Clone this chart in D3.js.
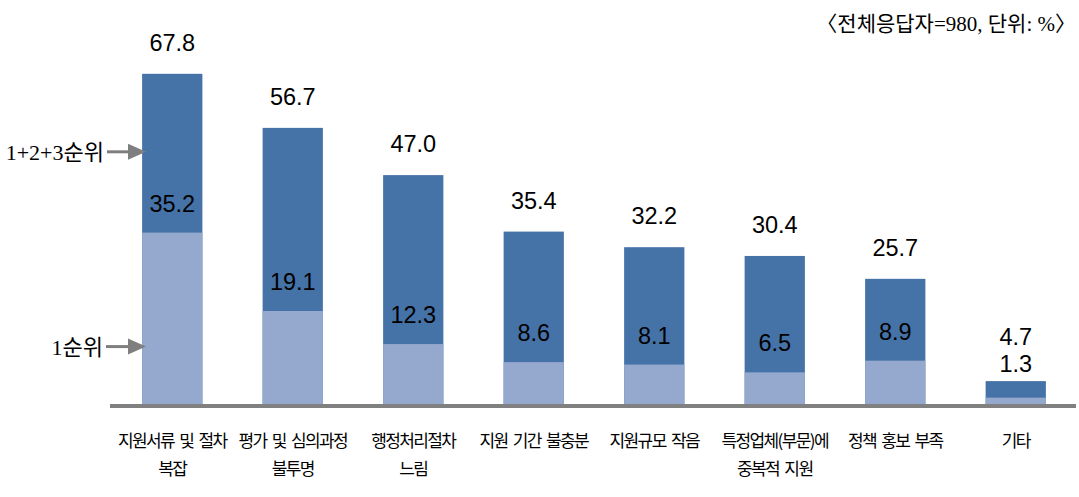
<!DOCTYPE html>
<html>
<head>
<meta charset="utf-8">
<script src="https://cdn.jsdelivr.net/npm/d3@7"></script>
<style>
  html, body { margin: 0; padding: 0; background: #fff; }
  svg { display: block; }
</style>
</head>
<body>
<script>
const categories = [
  ["지원서류 및 절차", "복잡"],
  ["평가 및 심의과정", "불투명"],
  ["행정처리절차", "느림"],
  ["지원 기간 불충분"],
  ["지원규모 작음"],
  ["특정업체(부문)에", "중복적 지원"],
  ["정책 홍보 부족"],
  ["기타"]
];
const totalValues = [67.8, 56.7, 47.0, 35.4, 32.2, 30.4, 25.7, 4.7];
const firstValues = [35.2, 19.1, 12.3, 8.6, 8.1, 6.5, 8.9, 1.3];
const seriesNames = ["1+2+3순위", "1순위"];
const noteText = "〈전체응답자=980, 단위: %〉";

const W = 1079, H = 497;
const svg = d3.select("body").append("svg").attr("width", W).attr("height", H);

const keys = categories.map((c, i) => "c" + i);
const x = d3.scaleBand().domain(keys).range([112, 1076]).paddingInner(0.5).paddingOuter(0.25);
const y = d3.scaleLinear().domain([0, 80]).range([404, 404 - 80 * 4.87]);

const darkColor = "#4572a7";
const lightColor = "#95a9cf";
const numFont = "'Liberation Sans', Arial, sans-serif";
const korFont = "'Noto Sans CJK KR', sans-serif";

// total bars
svg.append("g").selectAll("rect").data(totalValues).join("rect")
  .attr("x", (d, i) => x(keys[i]))
  .attr("y", d => y(d))
  .attr("width", x.bandwidth())
  .attr("height", d => y(0) - y(d))
  .attr("fill", darkColor);

// first-rank bars
svg.append("g").selectAll("rect").data(firstValues).join("rect")
  .attr("x", (d, i) => x(keys[i]))
  .attr("y", d => y(d))
  .attr("width", x.bandwidth())
  .attr("height", d => y(0) - y(d))
  .attr("fill", lightColor);

// axis
const axis = svg.append("g").attr("transform", "translate(0,406)")
  .call(d3.axisBottom(x).tickSize(0).tickSizeOuter(0).tickFormat(""));
axis.select(".domain").attr("stroke", "#808080").attr("stroke-width", 4)
  .attr("d", "M110,0H1076");

// category labels
const labG = svg.append("g");
categories.forEach((lines, i) => {
  const t = labG.append("text")
    .attr("x", x(keys[i]) + x.bandwidth() / 2)
    .attr("y", 447)
    .attr("text-anchor", "middle")
    .attr("font-family", korFont)
    .attr("font-size", 17)
    .attr("letter-spacing", -1.6)
    .attr("word-spacing", 3)
    .attr("fill", "#000");
  lines.forEach((ln, j) => {
    t.append("tspan").attr("x", x(keys[i]) + x.bandwidth() / 2)
      .attr("y", 447 + j * 28).text(ln);
  });
});

// value labels
const valG = svg.append("g").attr("font-family", numFont).attr("font-size", 23.5)
  .attr("text-anchor", "middle").attr("fill", "#000");
totalValues.forEach((v, i) => {
  const cx = x(keys[i]) + x.bandwidth() / 2;
  const f = firstValues[i];
  const darkH = y(f) - y(v);
  if (darkH < 30) {
    valG.append("text").attr("x", cx).attr("y", y(v) - 9).text(f.toFixed(1));
    valG.append("text").attr("x", cx).attr("y", y(v) - 36).text(v.toFixed(1));
  } else {
    valG.append("text").attr("x", cx).attr("y", y(v) - 23).text(v.toFixed(1));
    valG.append("text").attr("x", cx).attr("y", y(f) - 21).text(f.toFixed(1));
  }
});

// series annotations with arrows
const annG = svg.append("g");
const ann = [
  { name: seriesNames[0], yv: y(totalValues[0]) + 78, textEnd: 104, lineStart: 107 },
  { name: seriesNames[1], yv: y(firstValues[0]) + 114, textEnd: 103, lineStart: 106 }
];
ann.forEach(a => {
  annG.append("text").attr("x", a.textEnd).attr("y", a.yv + 8)
    .attr("text-anchor", "end")
    .attr("font-family", "'Liberation Serif', 'Noto Sans CJK KR', serif")
    .attr("font-size", 22)
    .attr("fill", "#000").text(a.name);
  annG.append("line").attr("x1", a.lineStart).attr("x2", 130)
    .attr("y1", a.yv).attr("y2", a.yv)
    .attr("stroke", "#7f7f7f").attr("stroke-width", 3);
  annG.append("path")
    .attr("d", `M128,${a.yv - 8}L146,${a.yv}L128,${a.yv + 8}Z`)
    .attr("fill", "#7f7f7f");
});

// note
svg.append("text").attr("x", 1076).attr("y", 31).attr("text-anchor", "end")
  .attr("font-family", "'Liberation Serif', 'Noto Sans CJK KR', serif")
  .attr("font-size", 21).attr("fill", "#000").text(noteText);
</script>
</body>
</html>
